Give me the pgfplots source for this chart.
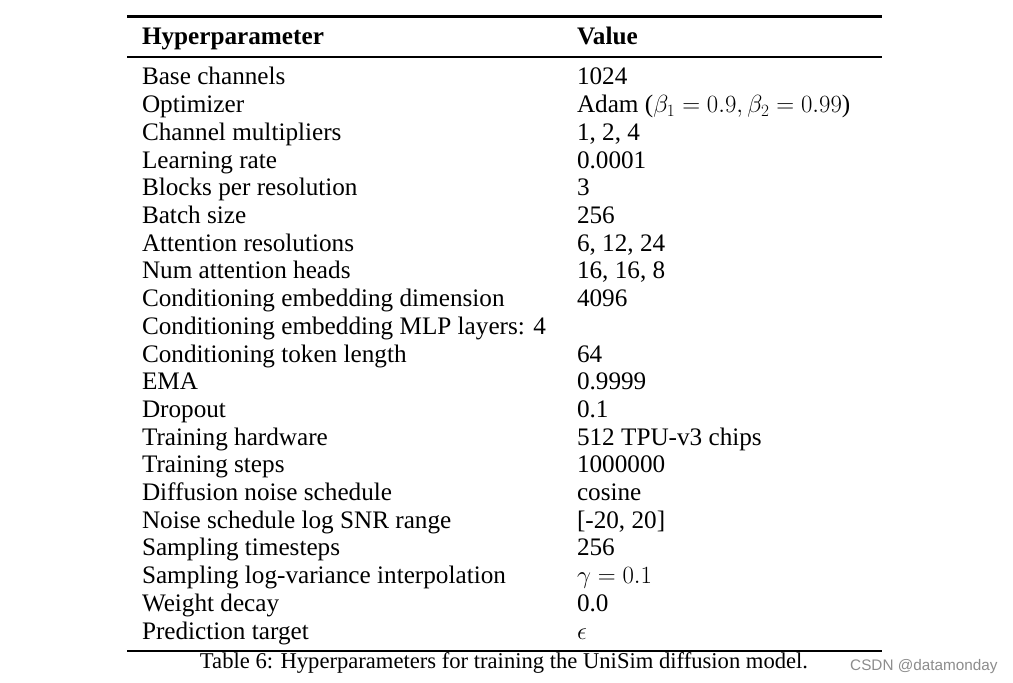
\documentclass[border=0pt]{standalone}
\usepackage{pgfplots}
\pgfplotsset{compat=1.18}
\usepackage{fontspec}
\setmainfont{Liberation Serif}
\newfontfamily\wmfont{Liberation Sans}
\newcommand\tabfont{\fontsize{25.2bp}{30bp}\selectfont}
\tikzset{cell/.style={anchor=base west,inner sep=0pt,outer sep=0pt,font=\tabfont}}
\newcommand\row[3]{%
  \node[cell] at (axis cs:142,{85+27.7*#1}) {#2};
  \node[cell] at (axis cs:577,{85+27.7*#1}) {#3};}
\begin{document}
\begin{tikzpicture}
\begin{axis}[width=1013bp,height=683bp,scale only axis,
  xmin=0,xmax=1013,ymin=0,ymax=683,y dir=reverse,
  axis lines=none,clip=false]
\addplot[draw=none,forget plot] coordinates {(0,0) (1013,683)};
\addplot[black,line width=2.2bp] coordinates {(127,16.5) (882,16.5)};
\addplot[black,line width=1.2bp] coordinates {(127,57) (882,57)};
\addplot[black,line width=2.2bp] coordinates {(127,651) (882,651)};
\node[cell] at (axis cs:142,45) {\bfseries Hyperparameter};
\node[cell] at (axis cs:577,45) {\bfseries Value};
\row{0}{Base channels}{1024}
\row{1}{Optimizer}{Adam ($\beta_1 = 0.9, \beta_2 = 0.99$)}
\row{2}{Channel multipliers}{1, 2, 4}
\row{3}{Learning rate}{0.0001}
\row{4}{Blocks per resolution}{3}
\row{5}{Batch size}{256}
\row{6}{Attention resolutions}{6, 12, 24}
\row{7}{Num attention heads}{16, 16, 8}
\row{8}{Conditioning embedding dimension}{4096}
\row{9}{Conditioning embedding MLP layers: 4}{}
\row{10}{Conditioning token length}{64}
\row{11}{EMA}{0.9999}
\row{12}{Dropout}{0.1}
\row{13}{Training hardware}{512 TPU-v3 chips}
\row{14}{Training steps}{1000000}
\row{15}{Diffusion noise schedule}{cosine}
\row{16}{Noise schedule log SNR range}{[-20, 20]}
\row{17}{Sampling timesteps}{256}
\row{18}{Sampling log-variance interpolation}{$\gamma = 0.1$}
\row{19}{Weight decay}{0.0}
\row{20}{Prediction target}{$\epsilon$}
\node[anchor=base,inner sep=0pt,font=\fontsize{22.6bp}{27bp}\selectfont] at (axis cs:504,668) {Table 6: Hyperparameters for training the UniSim diffusion model.};
\node[anchor=base west,inner sep=0pt,text=black!45,font=\wmfont\fontsize{15.3bp}{18bp}\selectfont] at (axis cs:850,670) {CSDN @datamonday};
\end{axis}
\end{tikzpicture}
\end{document}
